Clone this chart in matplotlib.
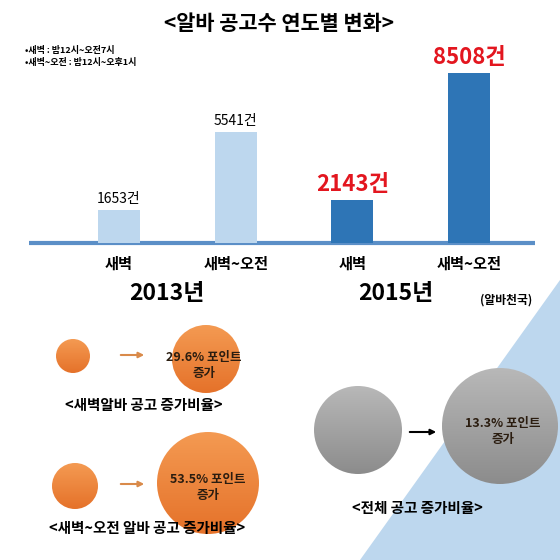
import numpy as np
import matplotlib
matplotlib.use("Agg")
import matplotlib.pyplot as plt
from matplotlib.patches import Circle, Polygon
from matplotlib.colors import LinearSegmentedColormap

plt.rcParams['font.family'] = ['Noto Sans CJK KR', 'DejaVu Sans']

# data
years = ['2013년', '2015년']
categories = ['새벽', '새벽~오전', '새벽', '새벽~오전']
counts = [1653, 5541, 2143, 8508]
rates = ['29.6%', '53.5%', '13.3%']
rate_titles = ['<새벽알바 공고 증가비율>', '<새벽~오전 알바 공고 증가비율>', '<전체 공고 증가비율>']
notes = ['•새벽 : 밤12시~오전7시', '•새벽~오전 : 밤12시~오후1시']

W = 560
fig = plt.figure(figsize=(5.6, 5.6), dpi=100)

# background layer in pixel coords
bg = fig.add_axes([0, 0, 1, 1])
bg.set_axis_off()

bg.add_patch(Polygon([(360, 560), (560, 280), (560, 560)], closed=True,
                     facecolor='#bdd7ee', edgecolor='none', zorder=0))

bg.text(279, 23, '<알바 공고수 연도별 변화>', fontsize=15, fontweight='heavy',
        ha='center', va='center')
bg.text(25, 50, notes[0], fontsize=6.5, fontweight='bold', va='center')
bg.text(25, 62, notes[1], fontsize=6.5, fontweight='bold', va='center')

# bar chart axes, baseline at y=243px, 50 per px
base = 243
top = 30
ax = fig.add_axes([0, (W - base) / W, 1, (base - top) / W])
ax.patch.set_alpha(0)
x = np.arange(len(counts))
px = 350 / 3
ax.set_xlim(-119 / px, (W - 119) / px)
ax.set_ylim(0, (base - top) * 50)
colors = ['#bdd7ee', '#bdd7ee', '#2e75b6', '#2e75b6']
ax.bar(x, counts, width=42 / px, color=colors)
for i, v in enumerate(counts):
    if i < 2:
        ax.annotate(f'{v}건', (x[i], v), xytext=(0, 3), textcoords='offset points',
                    ha='center', va='bottom', fontsize=10)
    else:
        ax.annotate(f'{v}건', (x[i], v), xytext=(0, 3), textcoords='offset points',
                    ha='center', va='bottom', fontsize=16, fontweight='bold',
                    color='#e3161f')
ax.set_xticks(x)
ax.set_xticklabels(categories, fontsize=11, fontweight='bold')
ax.tick_params(axis='x', length=0, pad=9)
ax.set_yticks([])
for s in ax.spines.values():
    s.set_visible(False)

bg.plot([29, 535], [243, 243], color='#5b8fc7', lw=3, solid_capstyle='butt', zorder=5)

bg.text(167, 294, years[0], fontsize=16.5, fontweight='bold', ha='center', va='center')
bg.text(396, 294, years[1], fontsize=16.5, fontweight='bold', ha='center', va='center')
bg.text(506, 300, '(알바천국)', fontsize=8.5, fontweight='bold', ha='center', va='center')


def grad_circle(cx, cy, r, c1, c2):
    circ = Circle((cx, cy), r, facecolor='none', edgecolor='none')
    bg.add_patch(circ)
    cmap = LinearSegmentedColormap.from_list('g', [c1, c2])
    im = bg.imshow(np.linspace(0, 1, 100).reshape(-1, 1), cmap=cmap,
                   extent=(cx - r, cx + r, cy + r, cy - r), origin='upper',
                   aspect='auto', zorder=2)
    im.set_clip_path(circ)


orange1 = '#f49a52'
orange2 = '#e5722a'
grad_circle(73, 356, 17, orange1, orange2)
grad_circle(206, 359, 34, orange1, orange2)
grad_circle(75, 486, 23, orange1, orange2)
grad_circle(208, 483, 51, orange1, orange2)
grad_circle(358, 430, 44, '#b8b8b8', '#8c8c8c')
grad_circle(500, 426, 58, '#b8b8b8', '#8c8c8c')

for y in [355, 484]:
    bg.annotate('', xy=(147, y), xytext=(118, y),
                arrowprops=dict(arrowstyle='-|>', color='#d98a4a', lw=1.5,
                                mutation_scale=8))
bg.annotate('', xy=(439, 432), xytext=(407, 432),
            arrowprops=dict(arrowstyle='-|>', color='black', lw=1.5,
                            mutation_scale=8))

centers = [(204, 357), (208, 480), (503, 423)]
for (cx, cy), r in zip(centers, rates):
    bg.text(cx, cy, f'{r} 포인트', fontsize=9, fontweight='bold', ha='center',
            va='center', color='#2b1d10', zorder=4)
    bg.text(cx, cy + 16, '증가', fontsize=9, fontweight='bold', ha='center',
            va='center', color='#2b1d10', zorder=4)

bg.text(144, 405, rate_titles[0], fontsize=10.5, fontweight='bold', ha='center', va='center', zorder=4)
bg.text(147, 528, rate_titles[1], fontsize=10.5, fontweight='bold', ha='center', va='center', zorder=4)
bg.text(417, 508, rate_titles[2], fontsize=10.5, fontweight='bold', ha='center', va='center', zorder=4)

bg.set_xlim(0, W)
bg.set_ylim(W, 0)

fig.savefig('out.png', dpi=100)
